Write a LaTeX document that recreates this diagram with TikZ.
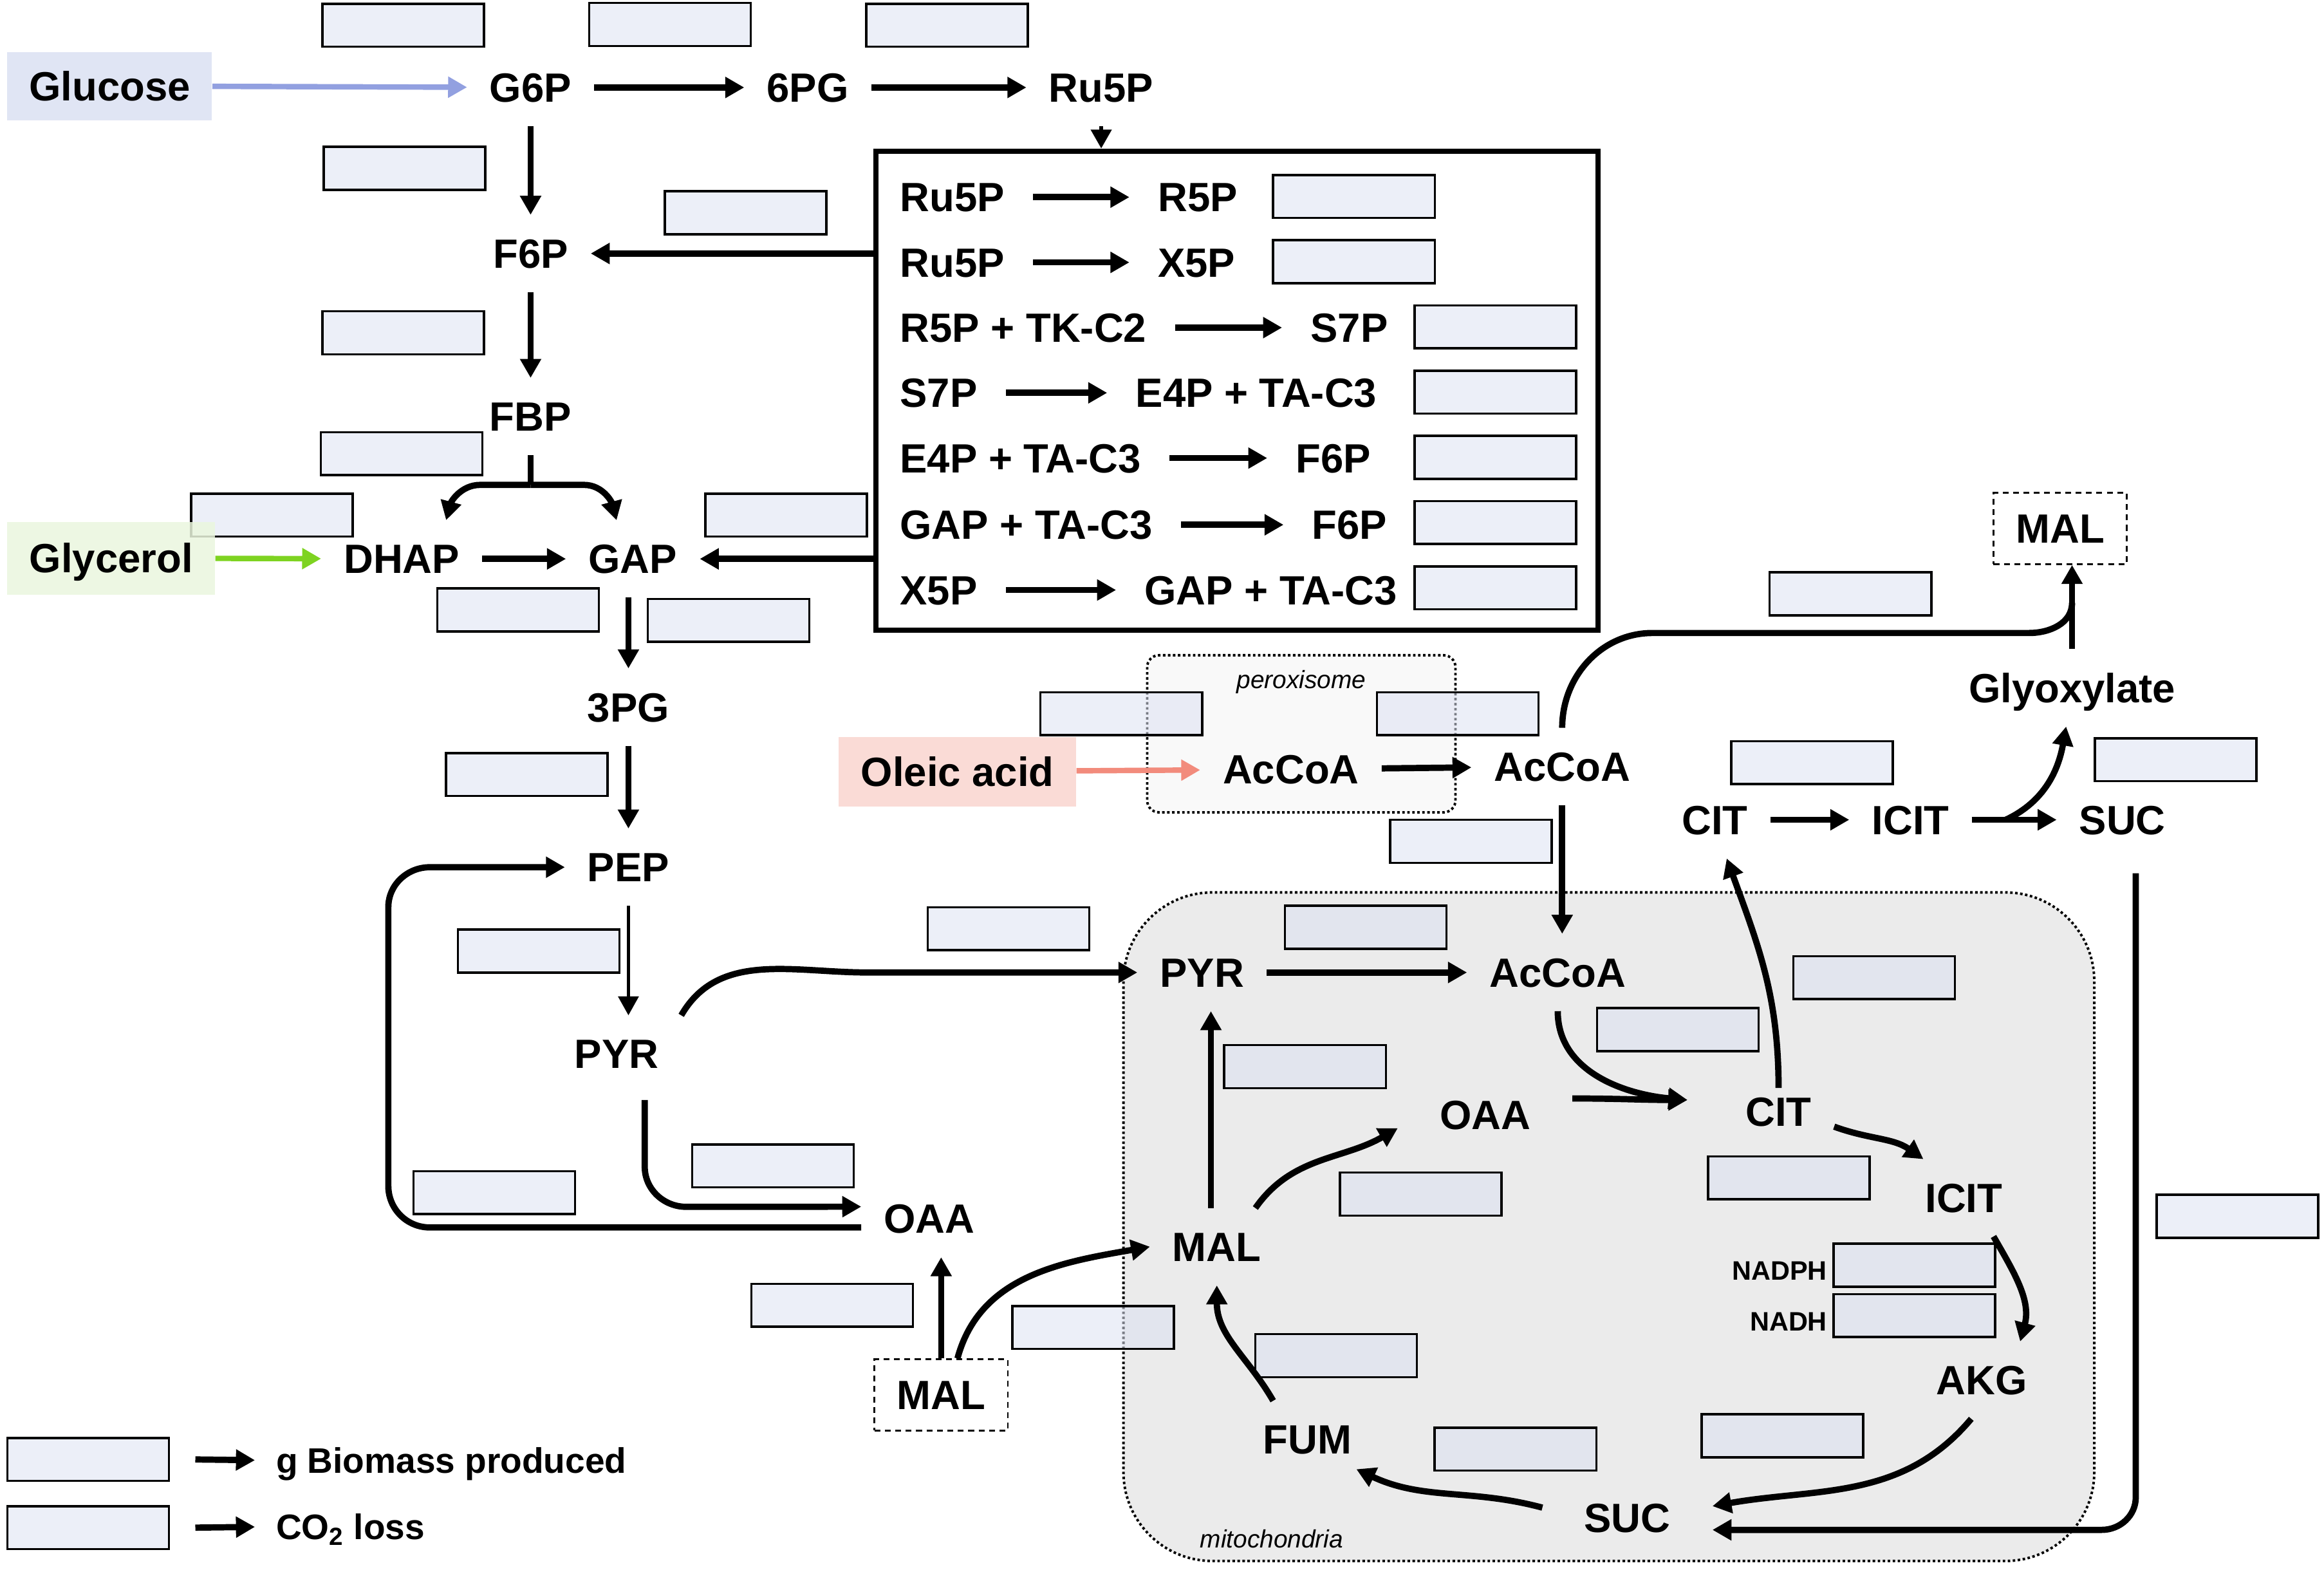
\documentclass[tikz,border=0pt]{standalone}
\usepackage{fontspec}
\setmainfont{Liberation Sans}
\usetikzlibrary{arrows.meta,positioning,calc}
\definecolor{boxblue}{RGB}{220,225,242}
\definecolor{glcfill}{RGB}{221,226,243}
\definecolor{glcarrow}{RGB}{146,160,224}
\definecolor{glyfill}{RGB}{234,246,222}
\definecolor{glyarrow}{RGB}{126,211,33}
\definecolor{olefill}{RGB}{250,219,214}
\definecolor{olearrow}{RGB}{242,139,124}
\definecolor{mitogray}{RGB}{235,235,235}
\definecolor{peroxgray}{RGB}{249,249,249}
\newcommand{\metfont}{\fontsize{19.6}{23}\selectfont\bfseries}
\newcommand{\cofont}{\fontsize{12.8}{15}\selectfont\bfseries}
\newcommand{\legfont}{\fontsize{17}{20}\selectfont\bfseries}
\newcommand{\compfont}{\fontsize{12}{14}\selectfont\itshape}
\tikzset{
  met/.style={font=\metfont, inner xsep=0.375cm, inner ysep=0.4cm, text height=0.49cm, text depth=0cm},
  ppptxt/.style={met, inner xsep=0.475cm},
  src/.style={font=\metfont, inner sep=0cm, text height=0.49cm, text depth=0cm},
  dashbox/.style={met, draw, line width=0.9pt, dash pattern=on 2.8pt off 2.2pt, inner sep=0cm, minimum width=2.25cm, minimum height=1.2cm},
  valbox/.style={draw, line width=1.1pt, fill=boxblue, fill opacity=0.55, inner sep=0cm, minimum width=2.725cm, minimum height=0.725cm},
  arr/.style={line width=3pt, -{Triangle[length=0.32cm,width=0.34cm]}},
  line/.style={line width=3pt},
  compart/.style={line width=1.2pt, dash pattern=on 1.2pt off 1.2pt},
  legtxt/.style={font=\legfont, inner xsep=0.35cm, text height=0.43cm, text depth=0cm}
}

\begin{document}
\begin{tikzpicture}[x=0.025cm, y=-0.025cm]
  \useasboundingbox (0,0) rectangle (1568,1059);

  % compartments
  \draw[compart, fill=mitogray, rounded corners=1.5cm] (758,602) rectangle (1413,1053);
  \draw[compart, fill=peroxgray, rounded corners=0.2cm] (774,442) rectangle (982,548);
  \node[font=\compfont] (perlab) at (878,460) {peroxisome};
  \node[font=\compfont] (mitolab) at (858,1038) {mitochondria};

  % flux boxes
  \foreach \i/\x/\y in {1/272/17, 2/452/16.5, 3/639/17, 4/273/113.5, 5/503/143.5, 6/272/224.5,
      7/271/306, 8/183.5/347.5, 9/530.5/347.5, 10/349.5/411.5, 11/491.5/418.5,
      12/913.5/132.5, 13/913.5/176.5, 14/1009/220.5, 15/1009/264.5, 16/1009/308.5,
      17/1009/352.5, 18/1009/396.5, 19/1248.5/400.5, 20/756.5/481.5, 21/983.5/481.5,
      22/1222.5/514.5, 23/1468/512.5, 24/355.5/522.5, 25/992.5/567.5, 26/680.5/626.5,
      27/921.5/625.5, 28/363.5/641.5, 29/1264.5/659.5, 30/1132/694.5, 31/880.5/719.5,
      32/521.5/786.5, 33/333.5/804.5, 34/1207/794.5, 35/958.5/805.5, 36/1509.5/820.5,
      37/1291.5/853.5, 38/1291.5/887.5, 39/561.5/880.5, 40/737.5/895.5, 41/901.5/914.5,
      42/1022.5/977.5, 43/1202.5/968.5} {
    \node[valbox] (v\i) at (\x,\y) {};
  }
  \node[font=\cofont, anchor=east, inner sep=0.05cm, text height=0.33cm, text depth=0cm] (nadph) at (1235,857) {NADPH};
  \node[font=\cofont, anchor=east, inner sep=0.05cm, text height=0.33cm, text depth=0cm] (nadh) at (1235,891) {NADH};

  % substrates
  \node[src, fill=glcfill, fill opacity=0.9, text opacity=1, minimum width=3.45cm, minimum height=1.15cm] (glc) at (74,58) {Glucose};
  \node[src, fill=glyfill, fill opacity=0.85, text opacity=1, minimum width=3.5cm, minimum height=1.225cm] (gly) at (75,376.5) {Glycerol};
  \node[src, fill=olefill, minimum width=4cm, minimum height=1.175cm] (ole) at (646,520.5) {Oleic acid};

  % cytosol
  \node[met] (g6p) at (358,59) {G6P};
  \node[met] (pg6) at (545,59) {6PG};
  \node[met] (ru5p) at (743,59) {Ru5P};
  \node[met] (f6p) at (358,171) {F6P};
  \node[met] (fbp) at (358,281) {FBP};
  \node[met] (dhap) at (271,377) {DHAP};
  \node[met] (gap) at (427,377) {GAP};
  \node[met] (pg3) at (424,477) {3PG};
  \node[met] (pep) at (424,585) {PEP};
  \node[met] (pyr) at (416,711) {PYR};
  \node[met] (oaa) at (627,822) {OAA};
  \node[dashbox] (malc) at (635,941) {MAL};
  \node[met] (pacoa) at (871,519) {AcCoA};
  \node[met] (acoa) at (1054,517) {AcCoA};
  \node[met] (ccit) at (1157,553) {CIT};
  \node[met] (cicit) at (1289,553) {ICIT};
  \node[met] (csuc) at (1432,553) {SUC};
  \node[met] (glyox) at (1398,464) {Glyoxylate};
  \node[dashbox] (malg) at (1390,356.5) {MAL};

  % mitochondria
  \node[met] (mpyr) at (811,656) {PYR};
  \node[met] (macoa) at (1051,656) {AcCoA};
  \node[met] (moaa) at (1002,752) {OAA};
  \node[met] (mcit) at (1200,750) {CIT};
  \node[met] (micit) at (1325,808) {ICIT};
  \node[met] (makg) at (1337,931) {AKG};
  \node[met, inner xsep=0.7cm] (msuc) at (1098,1024) {SUC};
  \node[met] (mfum) at (882,971) {FUM};
  \node[met] (mmal) at (821,841) {MAL};

  % pentose phosphate box
  \node[draw, line width=2.5pt, minimum width=12.175cm, minimum height=8.075cm] (ppp) at (834.5,263.5) {};
  \foreach \i/\y/\xb/\a/\b in {1/133/762/Ru5P/R5P, 2/177/762/Ru5P/X5P, 3/221/865/R5P + TK-C2/S7P,
      4/265/747/S7P/E4P + TA-C3, 5/309/855/E4P + TA-C3/F6P, 6/354/866/GAP + TA-C3/F6P,
      7/398/753/X5P/GAP + TA-C3} {
    \node[ppptxt, anchor=west] (pl\i) at (588,\y) {\a};
    \node[ppptxt, anchor=west] (pr\i) at (\xb,\y) {\b};
    \draw[arr] (pl\i) -- (pr\i);
  }

  % glycolysis
  \draw[arr, glcarrow, line width=2.6pt] (glc) -- (g6p);
  \draw[arr] (g6p) -- (pg6);
  \draw[arr] (pg6) -- (ru5p);
  \draw[arr, line width=2pt] (ru5p) -- (ru5p |- ppp.north);
  \draw[arr] (g6p) -- (f6p);
  \draw[arr] (ppp.west |- f6p) -- (f6p);
  \draw[arr] (f6p) -- (fbp);
  \draw[line] (fbp) -- ([yshift=-0.5cm]fbp.south) coordinate (fork);
  \draw[arr] (fork) -- ++(-34,0) to[out=180,in=75] ([xshift=0.75cm]dhap.north);
  \draw[arr] (fork) -- ++(36,0) to[out=0,in=105] ([xshift=-0.275cm]gap.north);
  \draw[arr, glyarrow, line width=2.6pt] (gly) -- (dhap);
  \draw[arr] (dhap) -- (gap);
  \draw[arr] (ppp.west |- gap) -- (gap);
  \draw[arr] (pg3 |- gap.south) -- (pg3);
  \draw[arr] (pg3) -- (pep);
  \draw[arr, line width=1.6pt] (pep) -- (pep |- pyr.north);
  \draw[arr] (pyr.north east) to[out=60,in=180] (585,656) -- (mpyr);
  \draw[arr] ([xshift=0.475cm,yshift=-0.125cm]pyr.south) -- ++(0,45) to[out=-90,in=180] ++(28,27)
    -- ([yshift=0.2cm]oaa.west);
  \draw[arr] ([yshift=-0.15cm]oaa.west) -- (290,828) to[out=180,in=-90] (262,800) -- (262,612)
    to[out=90,in=180] (290,585) -- (pep);
  \draw[arr] (malc) -- (malc |- oaa.south);
  \draw[arr] ([xshift=0.275cm]malc.north) to[out=75,in=190] (mmal.west);

  % peroxisome and glyoxylate shunt
  \draw[arr, olearrow, line width=2.6pt] (ole) -- (pacoa);
  \draw[arr] (pacoa) -- (acoa);
  \draw[arr] (acoa) -- (acoa |- macoa.north);
  \coordinate (glxmid) at ($(glyox.north)!0.55!(glyox.north |- malg.south)$);
  \draw[line] (acoa.north) to[out=90,in=180] (1115,427) -- (1369,427) to[out=0,in=-90] (glxmid);
  \draw[arr] (glyox) -- (glyox |- malg.south);
  \draw[arr] (ccit) -- (cicit);
  \draw[arr] (cicit) -- (csuc);
  \draw[arr] ($(cicit.east)!0.4!(csuc.west)$) to[out=25,in=-100] ([xshift=-0.1cm]glyox.south);
  \draw[arr] ([xshift=0.225cm,yshift=-0.25cm]csuc.south) -- (1441,1010) to[out=-90,in=0] (1418,1032)
    -- ([yshift=-0.2cm]msuc.east);

  % TCA cycle
  \draw[arr] (mpyr) -- (macoa);
  \draw[arr] ([xshift=-0.1cm]mmal.north) -- ([xshift=-0.1cm]mmal.north |- mpyr.south);
  \draw[arr] ([xshift=0.65cm]mmal.north) to[out=55,in=-150] ([xshift=-0.325cm,yshift=-0.225cm]moaa.west);
  \draw[arr] (macoa.south) to[out=-90,in=175] ([xshift=-0.6cm,yshift=0.2cm]mcit.west);
  \draw[arr] ([xshift=0.325cm,yshift=0.275cm]moaa.east) to[out=0,in=180] ([xshift=-0.6cm,yshift=0.2cm]mcit.west);
  \draw[arr] ([yshift=-0.25cm]mcit.north) to[out=90,in=-70] ([xshift=0.2cm]ccit.south);
  \draw[arr] ([yshift=-0.25cm]mcit.east) to[out=-20,in=145] ([xshift=0.35cm]micit.north west);
  \draw[arr] ([xshift=0.5cm]micit.south) to[out=-60,in=75] ([xshift=0.65cm]makg.north);
  \draw[arr] ([xshift=-0.175cm]makg.south) to[out=-130,in=10] ([yshift=0.2cm]msuc.east);
  \draw[arr] ([yshift=0.175cm]msuc.west) to[out=165,in=-25] ([xshift=-0.3cm,yshift=0.15cm]mfum.south east);
  \draw[arr] ([xshift=-0.575cm]mfum.north) to[out=120,in=-90] (mmal.south);

  % legend
  \node[valbox] (lg1) at (59.5,984.5) {};
  \node[valbox] (lg2) at (59.5,1030.5) {};
  \node[legtxt, anchor=west] (lt1) at (172,985) {g Biomass produced};
  \node[legtxt, anchor=west] (lt2) at (172,1030) {CO\textsubscript{2} loss};
  \draw[arr] ([xshift=0.425cm]lg1.east) -- (lt1.west);
  \draw[arr] ([xshift=0.425cm]lg2.east) -- (lt2.west);
\end{tikzpicture}
\end{document}
